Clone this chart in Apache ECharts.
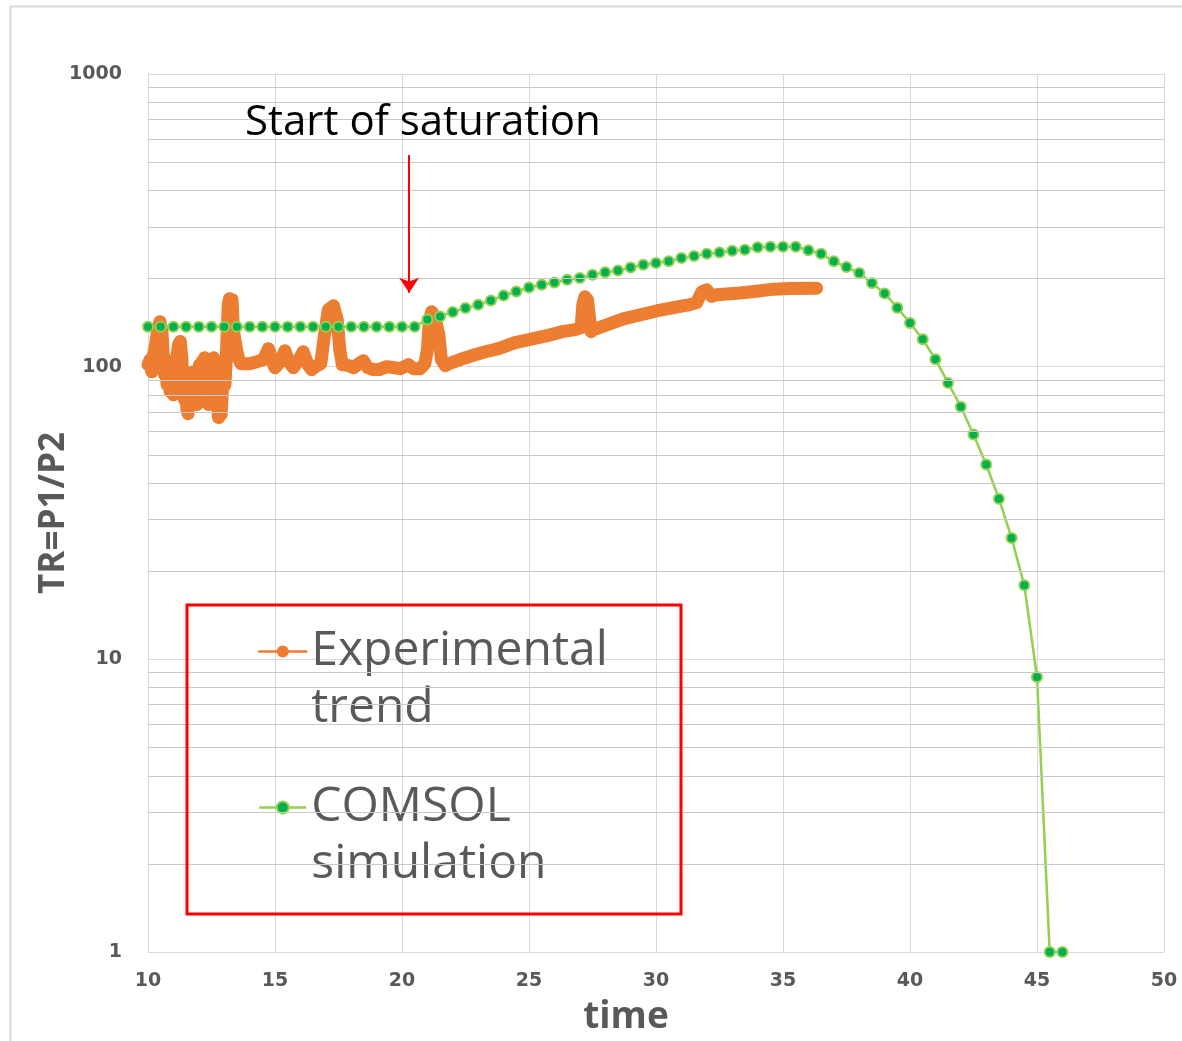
<!DOCTYPE html>
<html>
<head>
<meta charset="utf-8">
<script src="https://cdn.jsdelivr.net/npm/echarts@6/dist/echarts.min.js"></script>
<style>
  html, body { margin: 0; padding: 0; background: #ffffff; }
  #chart { width: 1182px; height: 1041px; }
</style>
</head>
<body>
<div id="chart"></div>
<script>
// ---- Data ----
const expTime = [
  10.0, 10.08, 10.15, 10.22, 10.3, 10.38, 10.47, 10.55, 10.6, 10.65, 10.7, 10.75, 10.8, 10.87, 10.93, 11.0, 11.07, 11.13,
  11.2, 11.27, 11.33, 11.38, 11.43, 11.48, 11.53, 11.58, 11.63, 11.68, 11.73, 11.78, 11.83, 11.88, 11.93, 11.98, 12.03,
  12.08, 12.13, 12.18, 12.23, 12.28, 12.33, 12.38, 12.43, 12.48, 12.53, 12.58, 12.63, 12.68, 12.73, 12.78, 12.83, 12.88,
  12.93, 12.98, 13.03, 13.08, 13.12, 13.16, 13.21, 13.26, 13.31, 13.36, 13.42, 13.5, 13.58, 13.66,
  14.0, 14.3, 14.55, 14.74, 14.9, 15.0, 15.2, 15.39, 15.55, 15.72, 15.9, 16.11, 16.3, 16.44, 16.65, 16.8, 16.95,
  17.1, 17.3, 17.45, 17.55, 17.65, 17.9, 18.1, 18.3, 18.48, 18.65, 18.87, 19.1, 19.4, 19.7, 19.92, 20.1, 20.25, 20.45, 20.71,
  20.9, 21.0, 21.08, 21.17, 21.3, 21.45, 21.55, 21.7, 21.85, 22.5, 23.13, 23.8, 24.45, 25.0, 25.76, 26.3, 26.81,
  27.05, 27.12, 27.2, 27.3, 27.38, 27.45, 27.55, 27.66, 28.71, 30.02, 30.68, 31.34, 31.6, 31.8, 32.0, 32.19, 32.39,
  33.3, 33.96, 34.62, 35.3, 36.32
];
const expTR = [
  101.6, 105.7, 96.1, 109.9, 118.9, 133.8, 142.4, 131.7, 109.9, 93.9, 105.7, 86.8, 97.7, 82.2, 96.1, 80.2, 90.3, 105.7,
  118.9, 121.9, 107.3, 86.8, 77.2, 86.8, 71.4, 69.1, 80.2, 93.9, 82.2, 96.1, 77.2, 86.8, 74.2, 91.6, 101.6,
  83.5, 104.0, 90.3, 107.3, 80.2, 96.1, 74.2, 90.3, 105.7, 96.1, 107.3, 83.5, 97.7, 74.2, 67.0, 77.2, 68.6,
  83.5, 93.9, 86.8, 105.7, 133.8, 162.8, 170.7, 156.5, 169.3, 133.8, 123.7, 112.5, 105.7, 102.4,
  102.4, 104.0, 105.7, 115.2, 104.0, 99.2, 104.0, 113.4, 104.0, 99.2, 104.0, 112.5, 101.6, 97.7, 100.8, 102.4, 128.6,
  156.5, 161.5, 144.7, 114.3, 101.6, 100.8, 99.2, 102.4, 104.8, 99.2, 97.7, 97.7, 100.0, 99.2, 98.4, 100.0, 101.6, 98.4, 98.4,
  102.4, 114.3, 144.7, 154.0, 147.0, 128.6, 105.7, 100.8, 102.4, 107.3, 111.6, 115.2, 120.8, 123.7, 127.9, 131.7, 133.8,
  135.9, 162.8, 173.3, 169.3, 147.0, 131.7, 135.9, 135.0, 145.6, 155.0, 159.0, 163.0, 165.5, 180.0, 183.0, 174.0, 176.0,
  178.5, 181.0, 184.0, 185.0, 185.5
];

const comsolTime = [
  10, 10.5, 11, 11.5, 12, 12.5, 13, 13.5, 14, 14.5, 15, 15.5, 16, 16.5, 17, 17.5, 18, 18.5, 19, 19.5, 20, 20.5,
  21, 21.5, 22, 22.5, 23, 23.5, 24, 24.5, 25, 25.5, 26, 26.5, 27, 27.5, 28, 28.5, 29, 29.5, 30, 30.5,
  31, 31.5, 32, 32.5, 33, 33.5, 34, 34.5, 35, 35.5, 36, 36.5, 37, 37.5, 38, 38.5, 39, 39.5, 40, 40.5,
  41, 41.5, 42, 42.5, 43, 43.5, 44, 44.5, 45, 45.5, 46
];
const comsolTR = [
  137, 137, 137, 137, 137, 137, 137, 137, 137, 137, 137, 137, 137, 137, 137, 137, 137, 137, 137, 137, 137, 137,
  145, 148.5, 153.7, 158.5, 162.8, 168.4, 175, 180.7, 186.5, 190.5, 194, 198, 201, 206, 210, 213, 218, 223, 226, 229,
  235, 239, 243, 245.5, 249, 251, 256, 257, 257, 257, 250, 243, 229, 219, 209, 193, 178, 159, 141, 124,
  106, 88, 73, 58.6, 46.3, 35.4, 26, 17.9, 8.7, 1.0, 1.0
];

const seriesNames = ['Experimental trend', 'COMSOL simulation'];
const legendLabels = ['Experimental\ntrend', 'COMSOL\nsimulation'];
const minorGridValues = [2, 3, 4, 5, 6, 7, 8, 9, 20, 30, 40, 50, 60, 70, 80, 90, 200, 300, 400, 500, 600, 700, 800, 900];
const arrowTime = [20.28, 20.28];
const arrowTR = [529, 179];
const annotationText = 'Start of saturation';

// ---- Chart ----
const FONT = '"Open Sans", "Noto Sans", sans-serif';
const TICK_FONT = '"DejaVu Sans", sans-serif';
const chart = echarts.init(document.getElementById('chart'), null, { renderer: 'canvas' });

const expData = expTime.map((t, i) => [t, expTR[i]]);
const comsolData = comsolTime.map((t, i) => [t, comsolTR[i]]);

function legendCfg(idx, top) {
  return {
    data: [seriesNames[idx]],
    left: 258,
    top: top,
    padding: 0,
    orient: 'vertical',
    itemWidth: 47,
    itemHeight: 15,
    selectedMode: false,
    formatter: function () { return ' \n' + legendLabels[idx]; },
    lineStyle: { width: 2.5 },
    textStyle: { fontFamily: FONT, fontSize: 48, lineHeight: 57, color: '#595959' }
  };
}

chart.setOption({
  animation: false,
  backgroundColor: '#ffffff',
  grid: { left: 148, right: 18, top: 74, bottom: 88, containLabel: false },
  legend: [legendCfg(0, 566), legendCfg(1, 722)],
  xAxis: {
    type: 'value', min: 10, max: 50, interval: 5,
    axisLine: { show: true, lineStyle: { color: '#D9D9D9', width: 1 } },
    axisTick: { show: false },
    axisLabel: { color: '#595959', fontSize: 19, fontWeight: 'bold', fontFamily: TICK_FONT, margin: 20 },
    splitLine: { show: true, lineStyle: { color: '#D9D9D9', width: 1 } },
    name: 'time', nameLocation: 'middle', nameGap: 47,
    nameTextStyle: { color: '#595959', fontSize: 37, fontWeight: 'bold', fontFamily: FONT, padding: [0, 60, 0, 0] }
  },
  yAxis: {
    type: 'log', logBase: 10, min: 1, max: 1000,
    axisLine: { show: true, lineStyle: { color: '#D9D9D9', width: 1 } },
    axisTick: { show: false },
    axisLabel: { color: '#595959', fontSize: 19, fontWeight: 'bold', fontFamily: TICK_FONT, margin: 26,
      formatter: function (v) { return String(Math.round(v)); } },
    splitLine: { show: true, lineStyle: { color: '#D9D9D9', width: 1 } },
    name: 'TR=P1/P2', nameLocation: 'middle', nameRotate: 90, nameGap: 76, nameMoveOverlap: false,
    nameTextStyle: { color: '#595959', fontSize: 35, fontWeight: 'bold', fontFamily: FONT }
  },
  series: [
    {
      name: 'minor-grid', type: 'line', data: [], silent: true, symbol: 'none',
      markLine: {
        silent: true, symbol: 'none', animation: false,
        label: { show: false },
        lineStyle: { color: '#C9C9C9', width: 1, type: 'solid' },
        emphasis: { disabled: true },
        data: minorGridValues.map(v => ({ yAxis: v }))
      }
    },
    {
      name: seriesNames[0], type: 'line', data: expData, clip: false,
      symbol: 'circle', showSymbol: true, symbolSize: 12,
      lineStyle: { color: '#ED7D31', width: 13, cap: 'round', join: 'round' },
      itemStyle: { color: '#ED7D31' },
      emphasis: { disabled: true }
    },
    {
      name: seriesNames[1], type: 'line', data: comsolData, clip: false,
      symbol: 'circle', symbolSize: 10, showSymbol: true,
      lineStyle: { color: '#92D050', width: 2.5 },
      itemStyle: { color: '#00B050', borderColor: '#92D050', borderWidth: 2 },
      emphasis: { disabled: true },
      markLine: {
        silent: true, symbol: ['none', 'arrow'], symbolSize: 15, animation: false,
        label: { show: false },
        lineStyle: { color: '#FF0000', width: 2, type: 'solid' },
        emphasis: { disabled: true },
        data: [[{ coord: [arrowTime[0], arrowTR[0]] }, { coord: [arrowTime[1], arrowTR[1]] }]]
      }
    }
  ],
  graphic: [
    { type: 'rect', left: 8, top: 4, shape: { width: 1190, height: 1050 }, style: { fill: 'none', stroke: '#D9D9D9', lineWidth: 2 }, silent: true, z: -1 },
    { type: 'rect', left: 184.5, top: 602.5, shape: { width: 494, height: 309 }, style: { fill: 'none', stroke: '#FF0000', lineWidth: 3 }, silent: true, z: 10 },
    { type: 'text', left: 245, top: 102, style: { text: annotationText, fontFamily: FONT, fontSize: 42, fill: '#000000' }, silent: true, z: 10 }
  ]
});
</script>
</body>
</html>
